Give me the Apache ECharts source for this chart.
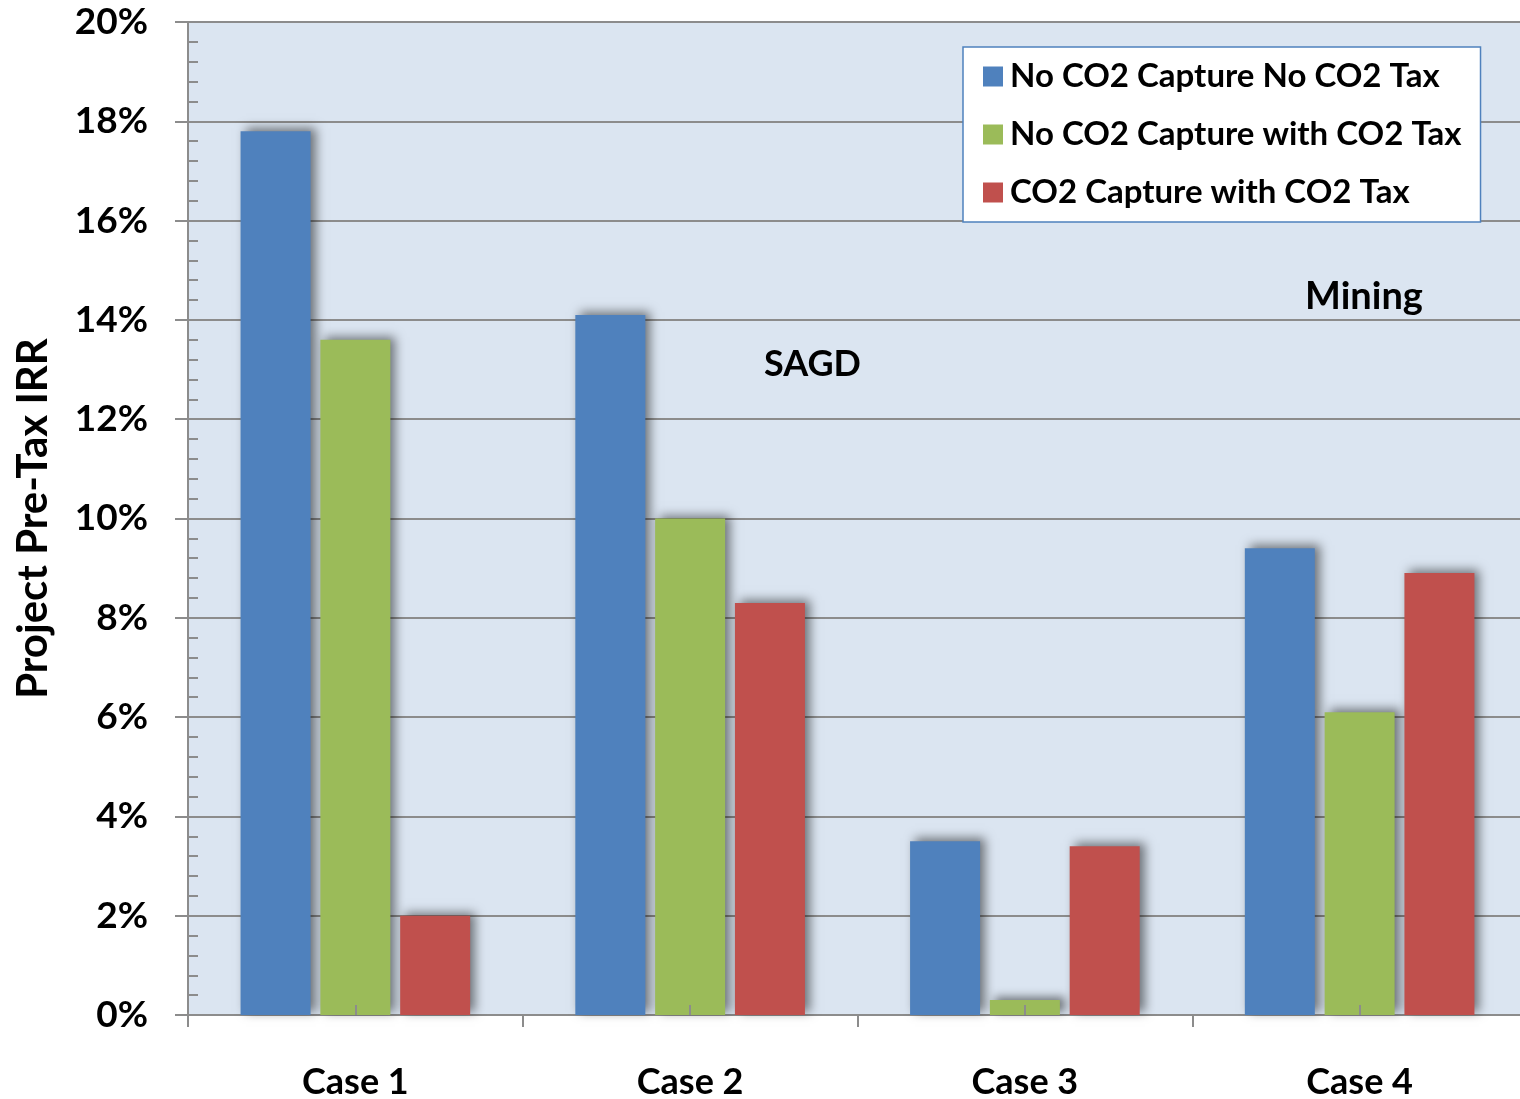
<!DOCTYPE html>
<html>
<head>
<meta charset="utf-8">
<script src="https://cdn.jsdelivr.net/npm/echarts@6/dist/echarts.min.js"></script>
<style>
  html, body { margin: 0; padding: 0; background: #ffffff; }
  #chart { width: 1520px; height: 1099px; }
</style>
</head>
<body>
<div id="chart"></div>
<script>
// Project pre-tax IRR (%) by case and CO2 scenario
const categories = ['Case 1', 'Case 2', 'Case 3', 'Case 4'];
const seriesNames = [
  'No CO2 Capture No CO2 Tax',
  'No CO2 Capture with CO2 Tax',
  'CO2 Capture with CO2 Tax'
];
const noCaptureNoTax = [17.8, 14.1, 3.5, 9.4];
const noCaptureWithTax = [13.6, 10.0, 0.3, 6.1];
const captureWithTax = [2.0, 8.3, 3.4, 8.9];
const seriesColors = ['#4F81BD', '#9BBB59', '#C0504D'];
const annotations = [
  { text: 'SAGD', left: 764, top: 346, size: 36 },
  { text: 'Mining', left: 1305, top: 278, size: 38 }
];

const FONT = 'Lato';
const axisGray = '#8c8c8c';

const chart = echarts.init(document.getElementById('chart'), null, { renderer: 'canvas' });

const barStyle = (color) => ({
  color: color,
  shadowColor: 'rgba(0,0,0,0.5)',
  shadowBlur: 10,
  shadowOffsetX: 5,
  shadowOffsetY: -3
});

const values = [noCaptureNoTax, noCaptureWithTax, captureWithTax];

chart.setOption({
  animation: false,
  textStyle: { fontFamily: FONT },
  grid: {
    // plot runs slightly past the right edge of the canvas
    left: 188, width: 1339, top: 22, bottom: 84,
    outerBoundsMode: 'none',
    show: true,
    backgroundColor: '#DBE5F1',
    borderWidth: 0
  },
  legend: {
    orient: 'vertical',
    left: 963, top: 47,
    padding: [13, 19, 13, 20],
    itemWidth: 20, itemHeight: 20,
    itemGap: 25,
    icon: 'rect',
    backgroundColor: '#ffffff',
    borderColor: '#4F81BD',
    borderWidth: 1.5,
    textStyle: { fontFamily: FONT, fontWeight: 'bold', fontSize: 33, color: '#000', padding: [0, 0, 0, 2] },
    data: seriesNames
  },
  xAxis: [
    {
      type: 'category',
      data: categories,
      position: 'bottom',
      axisLine: { lineStyle: { color: axisGray, width: 2 } },
      axisTick: { show: true, length: 12, lineStyle: { color: axisGray, width: 2 } },
      axisLabel: { fontFamily: FONT, fontWeight: 'bold', fontSize: 36, color: '#000', margin: 49 }
    },
    {
      // short inward marks at the centre of each case
      type: 'category',
      data: categories,
      position: 'bottom',
      z: 5,
      axisLine: { show: false },
      axisTick: { show: true, inside: true, alignWithLabel: true, length: 10, lineStyle: { color: axisGray, width: 2 } },
      axisLabel: { show: false }
    }
  ],
  yAxis: [
    {
      type: 'value',
      min: 0, max: 20, interval: 2,
      position: 'left',
      name: 'Project Pre-Tax IRR',
      nameLocation: 'middle',
      nameGap: 134,
      nameTextStyle: { fontFamily: FONT, fontWeight: 'bold', fontSize: 42, color: '#000' },
      axisLine: { show: true, lineStyle: { color: axisGray, width: 2 } },
      axisTick: { show: true, length: 13, lineStyle: { color: axisGray, width: 2 } },
      axisLabel: {
        fontFamily: FONT, fontWeight: 'bold', fontSize: 37, color: '#000', margin: 40,
        formatter: (v) => v + '%'
      },
      splitLine: { show: true, lineStyle: { color: axisGray, width: 2 } }
    },
    {
      // inward minor tick marks along the value axis
      type: 'value',
      min: 0, max: 20, interval: 2,
      position: 'left',
      axisLine: { show: false },
      axisTick: { show: false, inside: true },
      axisLabel: { show: false },
      splitLine: { show: false },
      minorTick: { show: true, splitNumber: 5, length: 10, lineStyle: { color: axisGray, width: 2 } }
    }
  ],
  graphic: annotations.map((a) => ({
    type: 'text',
    left: a.left, top: a.top, z: 10,
    style: { text: a.text, fontFamily: FONT, fontWeight: 'bold', fontSize: a.size, fill: '#000' }
  })),
  series: seriesNames.map((name, i) => ({
    name: name,
    type: 'bar',
    data: values[i],
    barWidth: 70,
    barGap: '14%',
    itemStyle: barStyle(seriesColors[i])
  }))
});
</script>
</body>
</html>
